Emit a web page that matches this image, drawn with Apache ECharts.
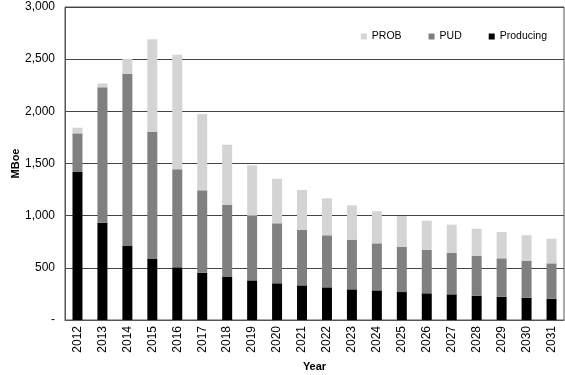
<!DOCTYPE html>
<html><head><meta charset="utf-8">
<script src="https://cdn.jsdelivr.net/npm/echarts@6/dist/echarts.min.js"></script>
<style>html,body{margin:0;padding:0;background:#fff}#c{width:565px;height:375px}</style>
</head><body><div id="c"></div>
<script>
const years = ['2012','2013','2014','2015','2016','2017','2018','2019','2020','2021','2022','2023','2024','2025','2026','2027','2028','2029','2030','2031'];
const producing = [1418,932,709,585,505,453,412,380,352,332,313,294,284,268,256,246,233,223,214,204];
const pud = [371,1298,1652,1217,939,790,693,620,575,531,499,476,451,432,415,396,384,368,355,339];
const prob = [54,38,141,888,1099,731,575,483,427,383,354,329,307,297,281,272,258,252,243,236];
const yTicks = [0,500,1000,1500,2000,2500,3000];

const font = 'Liberation Sans, Arial, sans-serif';
const chart = echarts.init(document.getElementById('c'));
chart.setOption({
  animation:false,
  textStyle:{fontFamily:font},
  legend:{
    data:['PROB','PUD','Producing'],
    right:13, top:26, itemWidth:6, itemHeight:6, itemGap:27,
    icon:'rect',
    textStyle:{fontSize:10.5,color:'#000',fontFamily:font}
  },
  grid:{left:65,right:1,top:7,bottom:55,show:true,borderColor:'#555',borderWidth:1,outerBoundsMode:'none'},
  xAxis:{
    type:'category', data:years,
    name:'Year', nameLocation:'middle', nameGap:41, nameMoveOverlap:false,
    nameTextStyle:{fontWeight:'bold',fontSize:11,color:'#000'},
    axisLine:{lineStyle:{color:'#555'}},
    axisTick:{show:false},
    axisLabel:{rotate:90,fontSize:12,color:'#000',margin:6}
  },
  yAxis:{
    type:'value', min:0, max:3000, interval:500,
    name:'MBoe', nameLocation:'middle', nameGap:44, nameRotate:90, nameMoveOverlap:false,
    nameTextStyle:{fontWeight:'bold',fontSize:11,color:'#000'},
    axisLine:{show:true,lineStyle:{color:'#555'}},
    axisTick:{show:false},
    splitLine:{lineStyle:{color:'#444',width:1}},
    axisLabel:{fontSize:12,color:'#000',margin:10,
      formatter:v=> v===0?'-':v.toLocaleString('en-US')}
  },
  series:[
    {name:'Producing',type:'bar',stack:'a',data:producing,barWidth:'40%',itemStyle:{color:'#000'}},
    {name:'PUD',type:'bar',stack:'a',data:pud,itemStyle:{color:'#808080'}},
    {name:'PROB',type:'bar',stack:'a',data:prob,itemStyle:{color:'#d4d4d4'}}
  ]
});
</script></body></html>
